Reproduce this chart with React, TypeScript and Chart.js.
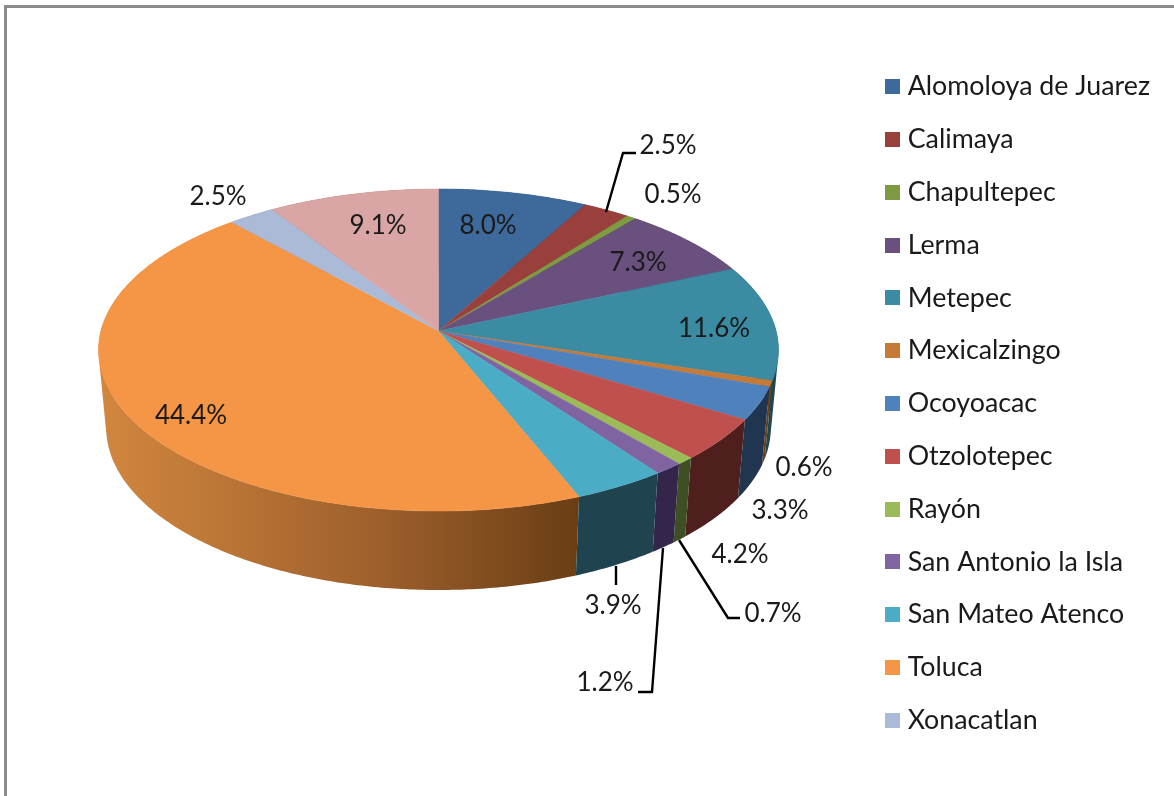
import React, { useEffect, useRef } from "react";
import { Chart, registerables } from "chart.js";

Chart.register(...registerables);

const categories = [
  "Alomoloya de Juarez", "Calimaya", "Chapultepec", "Lerma", "Metepec", "Mexicalzingo", "Ocoyoacac",
  "Otzolotepec", "Rayón", "San Antonio la Isla", "San Mateo Atenco", "Toluca", "Xonacatlan", "Zinacantepec",
];
const shares = [7.96, 2.5, 0.5, 7.3, 11.6, 0.6, 3.3, 4.24, 0.74, 1.24, 3.94, 44.4, 2.5, 9.1];
const topColors = [
  "#3D6A9B", "#9A403C", "#7F9B42", "#69507F", "#3B8BA3", "#C67A35", "#4F81BD",
  "#C0504D", "#9BBB59", "#8064A2", "#4BACC6", "#F59546", "#AABAD7", "#D9A6A5",
];
const wallColors = [
  "#1F3550", "#4E1F1D", "#3F4F24", "#33264A", "#1F4651", "#6B3F17", "#1F3550",
  "#4E1F1D", "#3F4F24", "#33264A", "#1F444F", "#F79646", "#56657F", "#6E5352",
];
const legendCount = 13;

const labelAnchors: [number, number][] = [
  [488, 225], [668, 145], [673, 194], [638, 262], [714, 328], [804, 467], [780, 510],
  [740, 554], [773, 613], [605, 682], [613, 605], [191, 415], [218, 196], [378, 225],
];
const leaderLines: [number, number][][] = [
  [[606, 212], [623, 153], [636, 153]],
  [[679, 540], [728, 618], [740, 618]],
  [[663, 548], [652, 692], [638, 692]],
  [[616, 566], [616, 585]],
];

const FONT = "Lato";
const K = 0.118;
const topFace = { cx: 438.5, cy: 331, rx: 337.6, ry: 158.8 };
const bottomFace = { cx: 438.5, cy: 408.6, rx: 330, ry: 160 };

function project(f: typeof topFace, a: number): [number, number] {
  const X = Math.cos(a), Y = Math.sin(a);
  const d = 1 - K * Y;
  return [f.cx + (f.rx * X) / d, f.cy + (f.ry * Y) / d];
}

const pie3d = {
  id: "pie3d",
  beforeDatasetDraw(chart: any) {
    const ctx = chart.ctx;
    const arcs = chart.getDatasetMeta(0).data;
    const order = arcs
      .map((_: any, i: number) => i)
      .sort((p: number, q: number) =>
        Math.sin((arcs[p].startAngle + arcs[p].endAngle) / 2) - Math.sin((arcs[q].startAngle + arcs[q].endAngle) / 2));
    ctx.save();
    for (const i of order) {
      const { startAngle: s, endAngle: e } = arcs[i];
      const n = Math.max(4, Math.ceil((e - s) * 90));
      let fill: any = wallColors[i];
      if (i === 11) {
        const g = ctx.createLinearGradient(99, 0, 578, 0);
        g.addColorStop(0, "#D2873F");
        g.addColorStop(0.6, "#9C5E2B");
        g.addColorStop(1, "#6A3E15");
        fill = g;
      }
      ctx.fillStyle = fill;
      ctx.beginPath();
      for (let j = 0; j < n; j++) {
        const a0 = s + ((e - s) * j) / n;
        const a1 = s + ((e - s) * (j + 1)) / n;
        const q = [project(topFace, a0), project(topFace, a1), project(bottomFace, a1), project(bottomFace, a0)];
        let area = 0;
        q.forEach((p, m) => {
          const r = q[(m + 1) % 4];
          area += p[0] * r[1] - r[0] * p[1];
        });
        if (area < 0) q.reverse();
        q.forEach((p, m) => (m ? ctx.lineTo(p[0], p[1]) : ctx.moveTo(p[0], p[1])));
        ctx.closePath();
      }
      ctx.fill();
    }
    arcs.forEach((arc: any, i: number) => {
      const { startAngle: s, endAngle: e } = arc;
      const n = Math.max(4, Math.ceil((e - s) * 90));
      ctx.beginPath();
      ctx.moveTo(topFace.cx, topFace.cy);
      for (let j = 0; j <= n; j++) {
        const p = project(topFace, s + ((e - s) * j) / n);
        ctx.lineTo(p[0], p[1]);
      }
      ctx.closePath();
      ctx.fillStyle = topColors[i];
      ctx.strokeStyle = topColors[i];
      ctx.lineWidth = 0.5;
      ctx.fill();
      ctx.stroke();
    });
    ctx.strokeStyle = "#000000";
    ctx.lineWidth = 2.4;
    for (const line of leaderLines) {
      ctx.beginPath();
      line.forEach((p, j) => (j ? ctx.lineTo(p[0], p[1]) : ctx.moveTo(p[0], p[1])));
      ctx.stroke();
    }
    ctx.fillStyle = "#1A1A1A";
    ctx.font = `26px ${FONT}`;
    ctx.textAlign = "center";
    ctx.textBaseline = "middle";
    shares.forEach((v, i) => ctx.fillText(`${v.toFixed(1)}%`, labelAnchors[i][0], labelAnchors[i][1] + 1));
    ctx.restore();
    return false;
  },
};

function swatch(color: string) {
  const c = document.createElement("canvas");
  c.width = 15;
  c.height = 15;
  const g = c.getContext("2d")!;
  g.fillStyle = color;
  g.fillRect(0, 0, 15, 15);
  return c;
}

export default function App() {
  const ref = useRef<HTMLCanvasElement>(null);
  useEffect(() => {
    const chart = new Chart(ref.current!, {
      type: "pie",
      data: {
        labels: categories,
        datasets: [{ data: shares, backgroundColor: topColors, borderWidth: 0 }],
      },
      plugins: [pie3d],
      options: {
        responsive: false,
        animation: false,
        layout: { padding: { top: 11, right: 14, bottom: 0, left: 0 } },
        plugins: {
          tooltip: { enabled: false },
          legend: {
            position: "right",
            labels: {
              usePointStyle: true,
              pointStyleWidth: 4.4,
              boxHeight: 15,
              padding: 26,
              color: "#1A1A1A",
              font: { family: FONT, size: 26.8 },
              generateLabels: () =>
                categories.slice(0, legendCount).map((text, i) => ({
                  text,
                  fillStyle: topColors[i],
                  strokeStyle: topColors[i],
                  fontColor: "#1A1A1A",
                  lineWidth: 0,
                  pointStyle: swatch(topColors[i]),
                  index: i,
                })),
            },
          },
        },
      } as any,
    });
    return () => chart.destroy();
  }, []);
  return (
    <div style={{ position: "fixed", inset: 0, overflow: "hidden", background: "#fff" }}>
      <canvas ref={ref} width={1174} height={796} style={{ position: "absolute", left: 0, top: 0, display: "block" }} />
      <div
        style={{
          position: "absolute", left: 4, top: 5, width: 1300, height: 900,
          borderLeft: "3px solid #8C8C8C", borderTop: "3px solid #8C8C8C", pointerEvents: "none",
        }}
      />
    </div>
  );
}
